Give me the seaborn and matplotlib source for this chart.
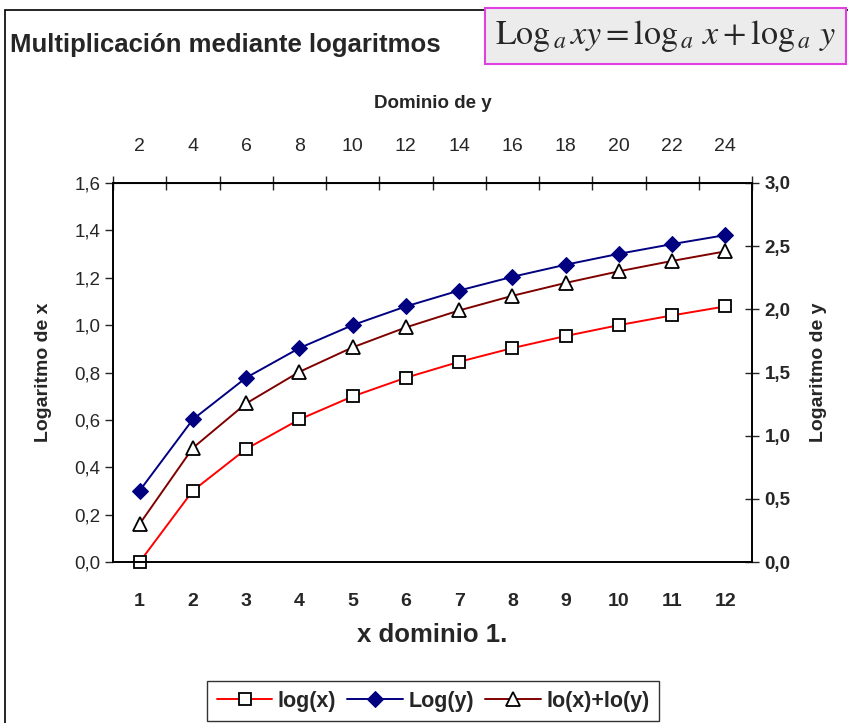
import matplotlib
matplotlib.use("Agg")
import matplotlib.pyplot as plt
import seaborn as sns
import pandas as pd
from matplotlib.ticker import FixedLocator, FuncFormatter
from matplotlib.patches import Rectangle

# values
x_dom = [1, 2, 3, 4, 5, 6, 7, 8, 9, 10, 11, 12]
y_dom = [2, 4, 6, 8, 10, 12, 14, 16, 18, 20, 22, 24]
log_x = [0.000, 0.301, 0.477, 0.602, 0.699, 0.778, 0.845, 0.903, 0.954, 1.000, 1.041, 1.079]
log_y = [0.301, 0.602, 0.778, 0.903, 1.000, 1.079, 1.146, 1.204, 1.255, 1.301, 1.342, 1.380]
log_sum = [0.301, 0.903, 1.255, 1.505, 1.699, 1.857, 1.991, 2.107, 2.209, 2.301, 2.383, 2.459]

df = pd.DataFrame({"x": x_dom, "lx": log_x, "ly": log_y, "ls": log_sum})

sns.set_style("white")
plt.rcParams["font.family"] = ["Liberation Sans", "DejaVu Sans"]
plt.rcParams["mathtext.fontset"] = "stix"

fig = plt.figure(figsize=(8.48, 7.23), dpi=100)
ax = fig.add_axes([113 / 848, 161 / 723, 639 / 848, 379 / 723])
ax2 = ax.twinx()

sns.lineplot(data=df, x="x", y="lx", ax=ax, color="red", lw=1.4, marker="s",
             markersize=8, markerfacecolor="white", markeredgecolor="black",
             markeredgewidth=1.3, label="log(x)", legend=False)
sns.lineplot(data=df, x="x", y="ly", ax=ax, color="#000080", lw=1.4, marker="D",
             markersize=8, markerfacecolor="#000080", markeredgecolor="#000080",
             label="Log(y)", legend=False)
sns.lineplot(data=df, x="x", y="ls", ax=ax2, color="#800000", lw=1.4, marker="^",
             markersize=10, markerfacecolor="white", markeredgecolor="black",
             markeredgewidth=1.3, label="lo(x)+lo(y)", legend=False)
for ln in ax.lines + ax2.lines:
    ln.set_clip_on(False)

ax.set_xlim(0.5, 12.5)
ax.set_ylim(0, 1.6)
ax2.set_ylim(0, 3.0)

comma1 = FuncFormatter(lambda v, p: f"{v:.1f}".replace(".", ","))

# left axis
ax.yaxis.set_major_locator(FixedLocator([0, 0.2, 0.4, 0.6, 0.8, 1.0, 1.2, 1.4, 1.6]))
ax.yaxis.set_major_formatter(comma1)
ax.tick_params(axis="y", direction="out", length=6, width=1, labelsize=13.5, pad=3)
ax.set_ylabel("Logaritmo de x", fontsize=14, fontweight="bold", labelpad=16)

# right axis
ax2.yaxis.set_major_locator(FixedLocator([0, 0.5, 1.0, 1.5, 2.0, 2.5, 3.0]))
ax2.yaxis.set_major_formatter(comma1)
ax2.tick_params(axis="y", direction="inout", length=10, width=1, labelsize=13.5, pad=4)
for t in ax2.get_yticklabels():
    t.set_fontweight("bold")
ax2.set_ylabel("Logaritmo de y", fontsize=14, fontweight="bold", labelpad=14)

# bottom axis: ticks at category boundaries, labels in the middle
bounds = [i + 0.5 for i in range(0, 13)]
ax.xaxis.set_major_locator(FixedLocator(bounds))
ax.xaxis.set_major_formatter(FuncFormatter(lambda v, p: ""))
ax.xaxis.set_minor_locator(FixedLocator(x_dom))
ax.xaxis.set_minor_formatter(FuncFormatter(lambda v, p: f"{int(round(v))}"))
ax.tick_params(axis="x", which="major", direction="inout", length=10, width=1)
ax.tick_params(axis="x", which="minor", length=0, labelsize=14, pad=22)
for t in ax.get_xticklabels(minor=True):
    t.set_fontweight("bold")
ax.set_xlabel("x dominio 1.", fontsize=18.5, fontweight="bold", labelpad=10)

# top axis for the y domain
top = ax.secondary_xaxis("top")
top.xaxis.set_major_locator(FixedLocator(bounds))
top.xaxis.set_major_formatter(FuncFormatter(lambda v, p: ""))
top.xaxis.set_minor_locator(FixedLocator(x_dom))
top.xaxis.set_minor_formatter(FuncFormatter(lambda v, p: str(y_dom[int(round(v)) - 1])))
top.tick_params(axis="x", which="major", direction="inout", length=10, width=1)
top.tick_params(axis="x", which="minor", length=0, labelsize=14, pad=20)
top.set_xlabel("Dominio de y", fontsize=13.5, fontweight="bold", labelpad=22)

for a in (ax, ax2):
    for s in a.spines.values():
        s.set_color("black")
        s.set_linewidth(1.2)
top.spines["top"].set_color("black")

# legend
h1, l1 = ax.get_legend_handles_labels()
h2, l2 = ax2.get_legend_handles_labels()
leg = fig.legend(h1 + h2, l1 + l2, loc="lower center", bbox_to_anchor=(433 / 848, -9 / 723),
                 ncol=3, frameon=True, fancybox=False, edgecolor="black",
                 prop={"weight": "bold", "size": 15.5}, handlelength=2.6, columnspacing=0.5,
                 handletextpad=0.25, borderpad=0.45)
leg.get_frame().set_linewidth(1.0)

# outer chart border
fig.patches.append(Rectangle((5 / 848, -0.01), 1.0, 1 - 10 / 723 + 0.01,
                             transform=fig.transFigure, fill=False,
                             edgecolor="black", lw=1.2))

fig.text(10 / 848, 1 - 45 / 723, "Multiplicación mediante logaritmos", fontsize=18.5,
         fontweight="bold", va="center", ha="left")

fig.text(495 / 848, 1 - 36 / 723, r"$\mathrm{Log}_{\,a}\,xy=\log_{\,a}\,x+\log_{\,a}\,y$",
         fontsize=24.5, va="center", ha="left",
         bbox=dict(boxstyle="square,pad=0.3", facecolor="#ececec",
                   edgecolor="#e040e0", lw=1.5))

fig.savefig("out.png", dpi=100)
